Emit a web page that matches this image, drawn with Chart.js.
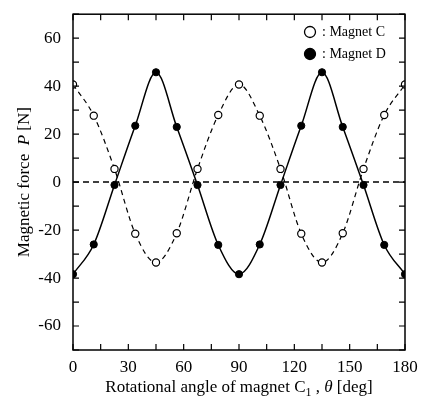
<!DOCTYPE html>
<html>
<head>
<meta charset="utf-8">
<script src="https://cdn.jsdelivr.net/npm/chart.js@4/dist/chart.umd.min.js"></script>
<style>
  html, body { margin: 0; padding: 0; background: #fff; }
  #wrap { width: 421px; height: 405px; }
</style>
</head>
<body>
<div id="wrap"><canvas id="c" width="421" height="405"></canvas></div>
<script>
// ── Data ─────────────────────────────────────────────────
const angles  = [0, 11.25, 22.5, 33.75, 45, 56.25, 67.5, 78.75, 90, 101.25, 112.5, 123.75, 135, 146.25, 157.5, 168.75, 180];
const magnetC = [40.7, 27.7, 5.5, -21.5, -33.5, -21.3, 5.5, 28, 40.7, 27.7, 5.5, -21.5, -33.5, -21.3, 5.5, 28, 40.7];
const magnetD = [-38.4, -26, -1.2, 23.5, 45.8, 23, -1.2, -26.2, -38.4, -26, -1.2, 23.5, 45.8, 23, -1.2, -26.2, -38.4];
const zeroX = [0, 180];
const zeroY = [0, 0];
const xLabelStep = 30;
const yLabelStep = 20;
const legendLabels = [": Magnet C", ": Magnet D"];

const SERIF = "'Liberation Serif', 'DejaVu Serif', serif";
const pts = (xs, ys) => xs.map((x, i) => ({ x, y: ys[i] }));

// ── Frame, inward ticks, x labels, titles, legend ────────
const decor = {
  id: "decor",
  afterDraw(chart) {
    const { ctx, chartArea: a, scales: { x, y } } = chart;
    ctx.save();
    ctx.setLineDash([]);
    ctx.strokeStyle = "#000";
    ctx.lineWidth = 1.5;
    ctx.strokeRect(a.left, a.top, a.right - a.left, a.bottom - a.top);

    ctx.lineWidth = 1.2;
    const len = 6;
    ctx.beginPath();
    for (const t of x.ticks) {
      const px = x.getPixelForValue(t.value);
      ctx.moveTo(px, a.bottom); ctx.lineTo(px, a.bottom - len);
      ctx.moveTo(px, a.top);    ctx.lineTo(px, a.top + len);
    }
    for (const t of y.ticks) {
      const py = y.getPixelForValue(t.value);
      ctx.moveTo(a.left, py);  ctx.lineTo(a.left + len, py);
      ctx.moveTo(a.right, py); ctx.lineTo(a.right - len, py);
    }
    ctx.stroke();

    // x tick labels
    ctx.fillStyle = "#000";
    ctx.font = `17px ${SERIF}`;
    ctx.textAlign = "center";
    ctx.textBaseline = "alphabetic";
    for (const t of x.ticks) {
      if (t.value % xLabelStep !== 0) continue;
      ctx.fillText(String(t.value), x.getPixelForValue(t.value), 372);
    }

    // x title
    const parts = [
      { t: "Rotational angle of magnet C", f: `17px ${SERIF}`, dy: 0 },
      { t: "1", f: `12px ${SERIF}`, dy: 4 },
      { t: " , ", f: `17px ${SERIF}`, dy: 0 },
      { t: "θ", f: `italic 17px ${SERIF}`, dy: 0 },
      { t: " [deg]", f: `17px ${SERIF}`, dy: 0 },
    ];
    ctx.textAlign = "left";
    let w = 0;
    for (const p of parts) { ctx.font = p.f; w += ctx.measureText(p.t).width; }
    let cx = (a.left + a.right) / 2 - w / 2;
    for (const p of parts) {
      ctx.font = p.f;
      ctx.fillText(p.t, cx, 392 + p.dy);
      cx += ctx.measureText(p.t).width;
    }

    // y title
    const yparts = [
      { t: "Magnetic force  ", f: `17px ${SERIF}` },
      { t: "P", f: `italic 17px ${SERIF}` },
      { t: " [N]", f: `17px ${SERIF}` },
    ];
    ctx.save();
    ctx.translate(29, (a.top + a.bottom) / 2);
    ctx.rotate(-Math.PI / 2);
    w = 0;
    for (const p of yparts) { ctx.font = p.f; w += ctx.measureText(p.t).width; }
    cx = -w / 2;
    for (const p of yparts) {
      ctx.font = p.f;
      ctx.fillText(p.t, cx, 0);
      cx += ctx.measureText(p.t).width;
    }
    ctx.restore();

    // legend
    const rows = [{ fill: "#fff", cy: 32 }, { fill: "#000", cy: 54 }];
    ctx.font = `14px ${SERIF}`;
    ctx.textBaseline = "middle";
    rows.forEach((r, i) => {
      ctx.beginPath();
      ctx.arc(310, r.cy, 5.5, 0, Math.PI * 2);
      ctx.fillStyle = r.fill;
      ctx.fill();
      ctx.lineWidth = 1.3;
      ctx.strokeStyle = "#000";
      ctx.stroke();
      ctx.fillStyle = "#000";
      ctx.fillText(legendLabels[i], 322, r.cy);
    });
    ctx.restore();
  },
};

new Chart(document.getElementById("c"), {
  type: "scatter",
  data: {
    datasets: [
      {
        label: "Magnet D",
        data: pts(angles, magnetD),
        showLine: true,
        cubicInterpolationMode: "monotone",
        borderColor: "#000",
        borderWidth: 1.5,
        pointRadius: 3.6,
        pointBackgroundColor: "#000",
        pointBorderColor: "#000",
        pointBorderWidth: 1,
        order: 1,
      },
      {
        label: "Magnet C",
        data: pts(angles, magnetC),
        showLine: true,
        cubicInterpolationMode: "monotone",
        borderColor: "#000",
        borderWidth: 1.2,
        borderDash: [5, 4],
        pointRadius: 3.6,
        pointBackgroundColor: "#fff",
        pointBorderColor: "#000",
        pointBorderWidth: 1.2,
        order: 2,
      },
      {
        label: "zero",
        data: pts(zeroX, zeroY),
        showLine: true,
        borderColor: "#000",
        borderWidth: 1.5,
        borderDash: [6, 4],
        pointRadius: 0,
        order: 3,
      },
    ],
  },
  options: {
    responsive: false,
    animation: false,
    layout: { padding: { top: 10, right: 16, left: 0, bottom: 0 } },
    plugins: { legend: { display: false }, tooltip: { enabled: false } },
    scales: {
      x: {
        type: "linear",
        min: 0, max: 180,
        afterFit: s => { s.height = 55; },
        ticks: { display: false, stepSize: 15, maxTicksLimit: 20, autoSkip: false },
        grid: { display: false },
        border: { display: false },
      },
      y: {
        min: -70, max: 70,
        afterFit: s => { s.width = 73; },
        ticks: {
          stepSize: 10,
          maxTicksLimit: 20,
          autoSkip: false,
          padding: 4,
          color: "#000",
          font: { family: SERIF, size: 17 },
          callback: v => (v % yLabelStep === 0 ? v : ""),
        },
        grid: { display: false },
        border: { display: false },
      },
    },
  },
  plugins: [decor],
});
</script>
</body>
</html>
